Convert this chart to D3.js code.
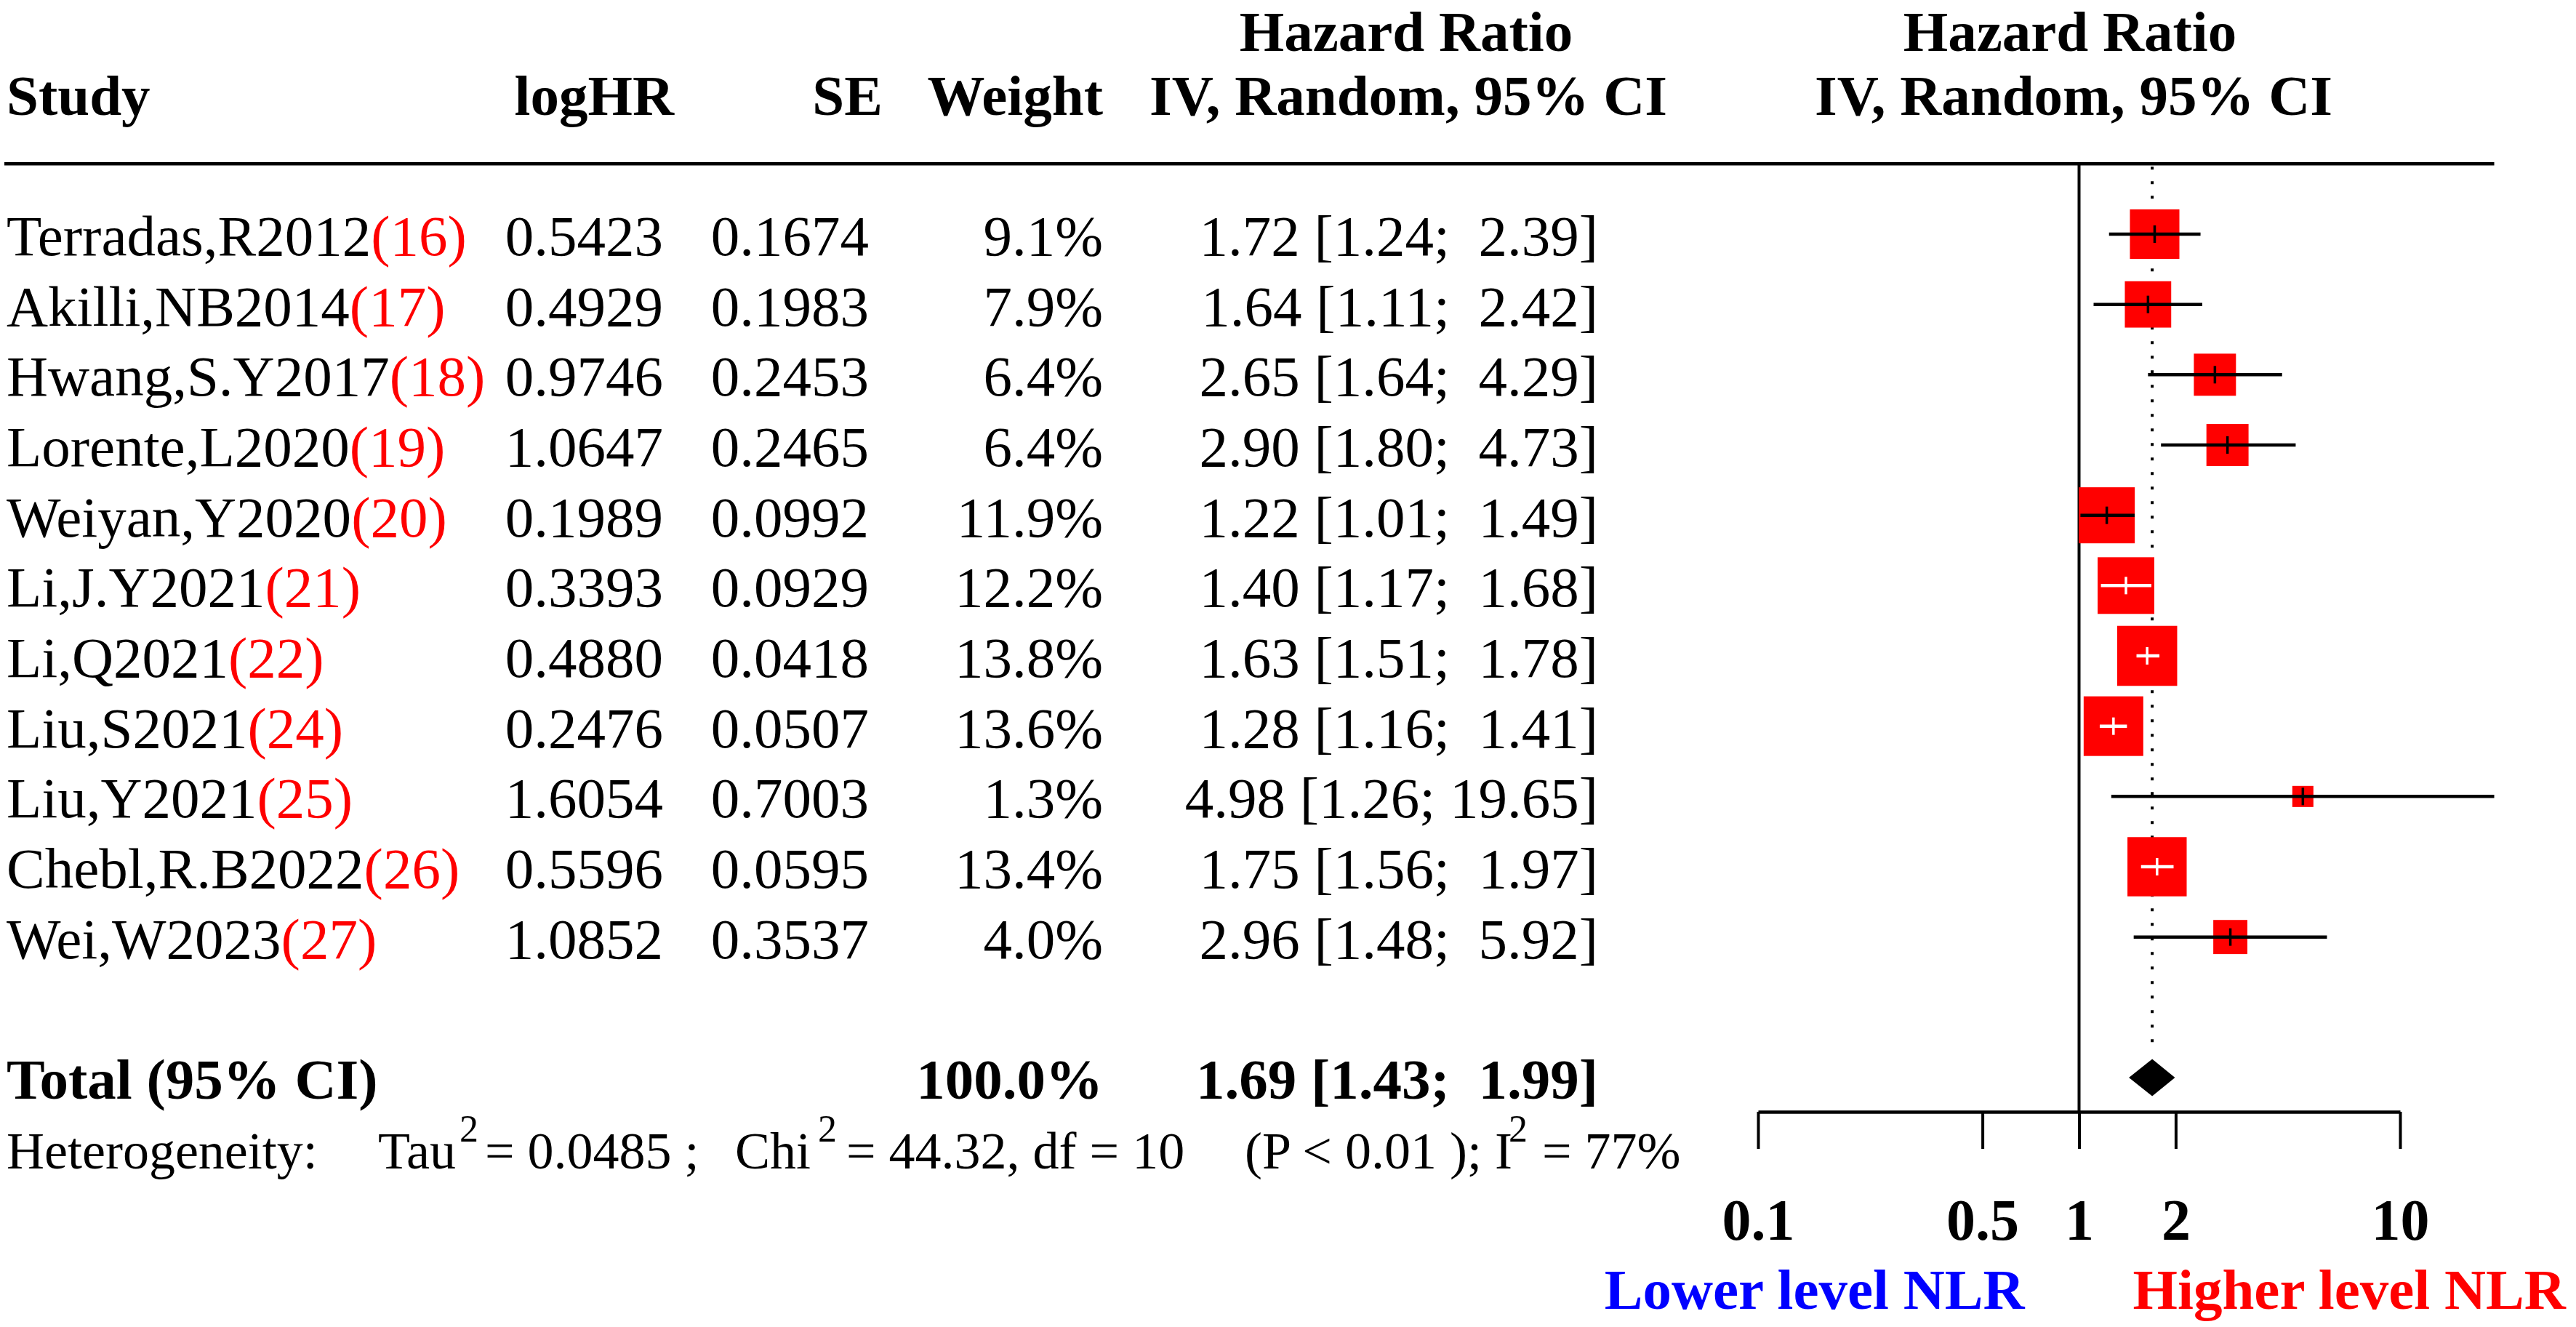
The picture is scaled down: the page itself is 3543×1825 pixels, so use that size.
<!DOCTYPE html>
<html>
<head>
<meta charset="utf-8">
<script src="https://cdn.jsdelivr.net/npm/d3@7"></script>
<style>
  body { margin: 0; background: #fff; overflow: hidden; }
  text { font-family: "Liberation Serif", "Times New Roman", serif; white-space: pre; }
</style>
</head>
<body>
<svg id="forest"></svg>
<script>
// study data
const studies = ["Terradas,R2012", "Akilli,NB2014", "Hwang,S.Y2017", "Lorente,L2020", "Weiyan,Y2020",
  "Li,J.Y2021", "Li,Q2021", "Liu,S2021", "Liu,Y2021", "Chebl,R.B2022", "Wei,W2023"];
const refs = ["(16)", "(17)", "(18)", "(19)", "(20)", "(21)", "(22)", "(24)", "(25)", "(26)", "(27)"];
const logHR = ["0.5423", "0.4929", "0.9746", "1.0647", "0.1989", "0.3393", "0.4880", "0.2476", "1.6054", "0.5596", "1.0852"];
const se = ["0.1674", "0.1983", "0.2453", "0.2465", "0.0992", "0.0929", "0.0418", "0.0507", "0.7003", "0.0595", "0.3537"];
const weight = [9.1, 7.9, 6.4, 6.4, 11.9, 12.2, 13.8, 13.6, 1.3, 13.4, 4.0];
const hr = [1.72, 1.64, 2.65, 2.90, 1.22, 1.40, 1.63, 1.28, 4.98, 1.75, 2.96];
const lower = [1.24, 1.11, 1.64, 1.80, 1.01, 1.17, 1.51, 1.16, 1.26, 1.56, 1.48];
const upper = [2.39, 2.42, 4.29, 4.73, 1.49, 1.68, 1.78, 1.41, 19.65, 1.97, 5.92];

const pooled = [1.69, 1.43, 1.99];   // HR, lower, upper
const totalWeight = "100.0%";
const tickValues = [0.1, 0.5, 1, 2, 10];

const W = 3543, H = 1825;
const fs = 79;
const svg = d3.select("#forest")
    .attr("width", W).attr("height", H)
    .attr("viewBox", [0, 0, W, H]);
svg.append("rect").attr("width", W).attr("height", H).attr("fill", "#fff");

const x = d3.scaleLog().domain([0.1, 10]).range([2418, 3301]);
const y = d3.scaleLinear().domain([0, 12]).range([322, 1482]);   // row centres
const base = r => y(r) + 29;                                      // text baseline

const fmtCI = (h, l, u) => `${h.toFixed(2)} [${l.toFixed(2)}; ${u.toFixed(2).padStart(5)}]`;

const rows = studies.map((s, i) => ({
    study: s, ref: refs[i], logHR: logHR[i], se: se[i], w: weight[i],
    hr: hr[i], lo: lower[i], hi: upper[i], r: i
}));

// ---- header ----
const head = svg.append("g").attr("font-weight", "bold").attr("font-size", fs);
const top1 = base(-3) + 9;   // keep the ascenders inside the page
head.append("text").attr("x", 1934).attr("y", top1).attr("text-anchor", "middle").text("Hazard Ratio");
head.append("text").attr("x", 2847).attr("y", top1).attr("text-anchor", "middle").text("Hazard Ratio");
head.append("text").attr("x", 9).attr("y", base(-2)).text("Study");
head.append("text").attr("x", 927).attr("y", base(-2)).attr("text-anchor", "end").text("logHR");
head.append("text").attr("x", 1214).attr("y", base(-2)).attr("text-anchor", "end").text("SE");
head.append("text").attr("x", 1517).attr("y", base(-2)).attr("text-anchor", "end").text("Weight");
head.append("text").attr("x", 1937).attr("y", base(-2)).attr("text-anchor", "middle").text("IV, Random, 95% CI");
head.append("text").attr("x", 2852).attr("y", base(-2)).attr("text-anchor", "middle").text("IV, Random, 95% CI");

svg.append("line")
    .attr("x1", 6).attr("x2", x(d3.max(upper)))
    .attr("y1", y(-1)).attr("y2", y(-1))
    .attr("stroke", "#000").attr("stroke-width", 4.5);

// ---- table body ----
const body = svg.append("g").attr("font-size", fs);
const lab = body.selectAll("text.study").data(rows).enter().append("text")
    .attr("class", "study").attr("x", 9).attr("y", d => base(d.r));
lab.append("tspan").text(d => d.study);
lab.append("tspan").attr("fill", "#ff0000").text(d => d.ref);

body.selectAll("text.lhr").data(rows).enter().append("text")
    .attr("x", 912).attr("y", d => base(d.r)).attr("text-anchor", "end").text(d => d.logHR);
body.selectAll("text.se").data(rows).enter().append("text")
    .attr("x", 1195).attr("y", d => base(d.r)).attr("text-anchor", "end").text(d => d.se);
body.selectAll("text.wt").data(rows).enter().append("text")
    .attr("x", 1517).attr("y", d => base(d.r)).attr("text-anchor", "end").text(d => d.w.toFixed(1) + "%");
body.selectAll("text.ci").data(rows).enter().append("text")
    .attr("x", 2198).attr("y", d => base(d.r)).attr("text-anchor", "end").text(d => fmtCI(d.hr, d.lo, d.hi));

// total row
const tot = svg.append("g").attr("font-size", fs).attr("font-weight", "bold");
tot.append("text").attr("x", 9).attr("y", base(12)).text("Total (95% CI)");
tot.append("text").attr("x", 1517).attr("y", base(12)).attr("text-anchor", "end").text(totalWeight);
tot.append("text").attr("x", 2198).attr("y", base(12)).attr("text-anchor", "end")
    .text(fmtCI(pooled[0], pooled[1], pooled[2]));

// heterogeneity line
const het = svg.append("text").attr("font-size", 72).attr("y", 1607);
const hetParts = [
    [9, "Heterogeneity:", false], [520, "Tau", false], [632, "2", true], [667, "= 0.0485 ;", false],
    [1011, "Chi", false], [1125, "2", true], [1164, "= 44.32, df = 10", false],
    [1712, "(P < 0.01 ); I", false], [2075, "2", true], [2121, "= 77%", false]
];
hetParts.forEach(([px, t, sup]) => {
    het.append("tspan").attr("x", px).attr("y", sup ? 1570 : 1607)
        .attr("font-size", sup ? 52 : 72).text(t);
});

// ---- plot ----
const plot = svg.append("g");

// line of no effect
plot.append("line")
    .attr("x1", x(1)).attr("x2", x(1)).attr("y1", y(-1)).attr("y2", 1529)
    .attr("stroke", "#000").attr("stroke-width", 4);

// pooled estimate reference
plot.append("line")
    .attr("x1", x(pooled[0])).attr("x2", x(pooled[0])).attr("y1", y(-1) + 4).attr("y2", 1446)
    .attr("stroke", "#000").attr("stroke-width", 4).attr("stroke-dasharray", "4 16");

const side = w => 20.8 * Math.sqrt(w);
const inside = d => x(d.lo) >= x(d.hr) - side(d.w) / 2 && x(d.hi) <= x(d.hr) + side(d.w) / 2;

plot.selectAll("rect.box").data(rows).enter().append("rect")
    .attr("x", d => x(d.hr) - side(d.w) / 2)
    .attr("y", d => y(d.r) - side(d.w) / 2)
    .attr("width", d => side(d.w)).attr("height", d => side(d.w))
    .attr("fill", "#ff0000").attr("stroke", "#ff0000").attr("stroke-width", 5.3);

plot.selectAll("line.ci").data(rows).enter().append("line")
    .attr("x1", d => x(d.lo)).attr("x2", d => x(d.hi))
    .attr("y1", d => y(d.r)).attr("y2", d => y(d.r))
    .attr("stroke", d => inside(d) ? "#fff" : "#000").attr("stroke-width", 4.5);

plot.selectAll("line.est").data(rows).enter().append("line")
    .attr("x1", d => x(d.hr)).attr("x2", d => x(d.hr))
    .attr("y1", d => y(d.r) - 12).attr("y2", d => y(d.r) + 12)
    .attr("stroke", d => inside(d) ? "#fff" : "#000").attr("stroke-width", 3.5);

// pooled diamond
const yd = y(12), hd = 25.5;
plot.append("path")
    .attr("d", `M${x(pooled[1])},${yd}L${x(pooled[0])},${yd - hd}L${x(pooled[2])},${yd}L${x(pooled[0])},${yd + hd}Z`)
    .attr("fill", "#000");

// x axis
const axis = plot.append("g")
    .attr("transform", "translate(0,1529)")
    .call(d3.axisBottom(x).tickValues(tickValues).tickFormat(d3.format("")).tickSize(51).tickSizeOuter(0).tickPadding(68));
axis.select(".domain").attr("stroke", "#000").attr("stroke-width", 4.5);
axis.selectAll(".tick line").attr("stroke", "#000").attr("stroke-width", 4);
axis.selectAll(".tick text")
    .attr("fill", "#000")
    .attr("font-family", "Liberation Serif, Times New Roman, serif")
    .attr("font-size", 80).attr("font-weight", "bold");

// direction labels
svg.append("text").attr("x", x(1) - 75).attr("y", 1800).attr("text-anchor", "end")
    .attr("font-size", fs).attr("font-weight", "bold").attr("fill", "#0000ff").text("Lower level NLR");
svg.append("text").attr("x", x(1) + 74).attr("y", 1800)
    .attr("font-size", fs).attr("font-weight", "bold").attr("fill", "#ff0000").text("Higher level NLR");
</script>
</body>
</html>
